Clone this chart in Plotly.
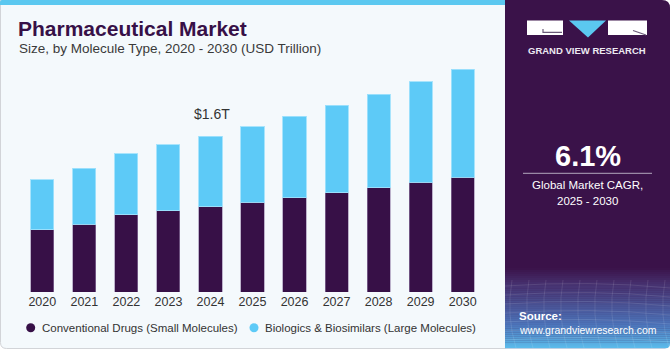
import plotly.graph_objects as go

# ---------------- data ----------------
years = ["2020", "2021", "2022", "2023", "2024", "2025", "2026", "2027", "2028", "2029", "2030"]
conventional = [0.636, 0.697, 0.790, 0.831, 0.875, 0.920, 0.967, 1.018, 1.070, 1.125, 1.179]
biologics = [0.513, 0.574, 0.628, 0.677, 0.725, 0.775, 0.835, 0.897, 0.958, 1.029, 1.105]
series_names = ["Conventional Drugs (Small Molecules)", "Biologics & Biosimilars (Large Molecules)"]
highlight_year = "2024"
highlight_label = "$1.6T"
title_text = "Pharmaceutical Market"
subtitle_text = "Size, by Molecule Type, 2020 - 2030 (USD Trillion)"
cagr_value = "6.1%"
cagr_line1 = "Global Market CAGR,"
cagr_line2 = "2025 - 2030"
brand_text = "GRAND VIEW RESEARCH"
source_label = "Source:"
source_url = "www.grandviewresearch.com"

# ---------------- style ----------------
W, H = 670, 350
DARK = "#371047"
LIGHT = "#5DCAF7"
PANEL = "#3A1249"
CARD = "#F4F9FC"
FONT = "Liberation Sans, Arial, sans-serif"


def X(p):
    return p / W


def Y(p):
    return 1 - p / H


def P(x, y):
    return f"{X(x):.5f},{Y(y):.5f}"


def rounded(x0, y0, x1, y1, tl=0, tr=0, br=0, bl=0):
    d = f"M {P(x0 + tl, y0)} L {P(x1 - tr, y0)} "
    if tr:
        d += f"Q {P(x1, y0)} {P(x1, y0 + tr)} "
    d += f"L {P(x1, y1 - br)} "
    if br:
        d += f"Q {P(x1, y1)} {P(x1 - br, y1)} "
    d += f"L {P(x0 + bl, y1)} "
    if bl:
        d += f"Q {P(x0, y1)} {P(x0, y1 - bl)} "
    d += f"L {P(x0, y0 + tl)} "
    if tl:
        d += f"Q {P(x0, y0)} {P(x0 + tl, y0)} "
    return d + "Z"


def hex2rgb(h):
    h = h.lstrip("#")
    return [int(h[i:i + 2], 16) for i in (0, 2, 4)]


def lerp_color(stops, t):
    for (t0, c0), (t1, c1) in zip(stops, stops[1:]):
        if t0 <= t <= t1:
            f = (t - t0) / (t1 - t0) if t1 > t0 else 0
            a, b = hex2rgb(c0), hex2rgb(c1)
            return "rgb(%d,%d,%d)" % tuple(round(a[i] + (b[i] - a[i]) * f) for i in range(3))
    return stops[-1][1]


fig = go.Figure()

fig.add_trace(go.Bar(
    x=years, y=conventional, name=series_names[0], marker_color=DARK,
    marker_line=dict(color="rgba(150,130,170,0.6)", width=1), showlegend=False,
    hovertemplate="%{x}: %{y:.2f}T<extra></extra>"))
fig.add_trace(go.Bar(
    x=years, y=biologics, name=series_names[1], marker_color=LIGHT,
    marker_line=dict(color="rgba(160,225,252,0.9)", width=1), showlegend=False,
    hovertemplate="%{x}: %{y:.2f}T<extra></extra>"))

shapes = []
# card background
shapes.append(dict(type="path", xref="paper", yref="paper", layer="below",
                   path=rounded(0.5, 0.5, 506, 348.5, bl=6),
                   fillcolor=CARD, line=dict(color="#D2D4D8", width=1)))
# top stripe
shapes.append(dict(type="path", xref="paper", yref="paper", layer="below",
                   path=rounded(0, 0, 506, 5, tl=2),
                   fillcolor="#5BC8F0", line=dict(width=0)))
# right panel
shapes.append(dict(type="path", xref="paper", yref="paper", layer="below",
                   path=rounded(505, 0, 670, 348.5, tr=8, br=5),
                   fillcolor=PANEL, line=dict(width=0)))
# gradient at bottom of panel
stops = [(0.0, PANEL), (0.2, "#46306E"), (0.45, "#4A5294"), (0.7, "#4C74BA"), (1.0, "#5CBDEC")]
g0, g1 = 268.0, 348.5
n = 40
for i in range(n):
    ya = g0 + (g1 - g0) * i / n
    yb = g0 + (g1 - g0) * (i + 1) / n + 0.4
    shapes.append(dict(type="rect", xref="paper", yref="paper", layer="below",
                       x0=X(505), x1=X(670), y0=Y(min(yb, g1)), y1=Y(ya),
                       fillcolor=lerp_color(stops, (i + 0.5) / n), line=dict(width=0)))
# faint mesh lines in the gradient area
for k in range(7):
    yy = 286 + k * 9
    shapes.append(dict(type="path", xref="paper", yref="paper", layer="below",
                       path=f"M {P(505, yy)} Q {P(590, yy - 6)} {P(670, yy + 2)}",
                       line=dict(color="rgba(255,255,255,0.10)", width=1)))
for k in range(10):
    xx = 512 + k * 17
    shapes.append(dict(type="path", xref="paper", yref="paper", layer="below",
                       path=f"M {P(xx, 280)} Q {P(xx - 6, 315)} {P(xx + 4, 348)}",
                       line=dict(color="rgba(255,255,255,0.10)", width=1)))
# white mask for rounded bottom-right corner
r = 5
shapes.append(dict(type="path", xref="paper", yref="paper", layer="below",
                   path=f"M {P(670, 348.5 - r)} Q {P(670, 348.5)} {P(670 - r, 348.5)} L {P(670, 350)} Z",
                   fillcolor="white", line=dict(width=0)))
shapes.append(dict(type="rect", xref="paper", yref="paper", layer="below",
                   x0=X(505), x1=X(670), y0=0, y1=Y(348.6),
                   fillcolor="white", line=dict(width=0)))
# logo
shapes.append(dict(type="rect", xref="paper", yref="paper", layer="below",
                   x0=X(527), x1=X(563), y0=Y(35), y1=Y(20.5),
                   fillcolor="white", line=dict(width=0)))
shapes.append(dict(type="path", xref="paper", yref="paper", layer="below",
                   path=f"M {P(543, 29)} L {P(543, 32.3)} L {P(562, 32.3)}",
                   line=dict(color="#6A5A78", width=1.2)))
shapes.append(dict(type="path", xref="paper", yref="paper", layer="below",
                   path=f"M {P(569, 20.5)} L {P(606, 20.5)} L {P(588, 37.5)} Z",
                   fillcolor="#5BC8F0", line=dict(width=0)))
shapes.append(dict(type="rect", xref="paper", yref="paper", layer="below",
                   x0=X(608), x1=X(647), y0=Y(35), y1=Y(20.5),
                   fillcolor="white", line=dict(width=0)))
shapes.append(dict(type="path", xref="paper", yref="paper", layer="below",
                   path=f"M {P(633, 30.5)} L {P(646, 35)}",
                   line=dict(color="#6A5A78", width=1.2)))
# CAGR divider
shapes.append(dict(type="line", xref="paper", yref="paper",
                   x0=X(523), x1=X(652), y0=Y(173.3), y1=Y(173.3),
                   line=dict(color="#B3A8BF", width=1)))
# legend markers
for cx, col in [(30.7, DARK), (254, LIGHT)]:
    shapes.append(dict(type="circle", xref="paper", yref="paper",
                       x0=X(cx - 4.5), x1=X(cx + 4.5), y0=Y(327.7 + 4.5), y1=Y(327.7 - 4.5),
                       fillcolor=col, line=dict(width=0)))

ann = []


def text(x, y, s, size, color, xanchor="left", bold=False):
    ann.append(dict(xref="paper", yref="paper", x=X(x), y=Y(y), text=s, showarrow=False,
                    xanchor=xanchor, yanchor="middle",
                    font=dict(family=FONT, size=size, color=color,
                              weight="bold" if bold else "normal")))


text(16, 28.5, title_text, 21, DARK, bold=True)
text(16.5, 48.5, subtitle_text, 13.5, "#3A3A3A")
text(40.2, 327.7, series_names[0], 11.5, "#333333")
text(262.8, 327.7, series_names[1], 11.5, "#333333")
text(587, 51, brand_text, 9.5, "#EDEAF2", xanchor="center", bold=True)
text(587.5, 156, cagr_value, 29, "white", xanchor="center", bold=True)
text(587.5, 185, cagr_line1, 11.5, "white", xanchor="center")
text(587.5, 200.7, cagr_line2, 11.5, "white", xanchor="center")
text(517, 315.7, source_label, 11.5, "white", bold=True)
text(517, 330, source_url, 10.5, "white")

hi = years.index(highlight_year)
ann.append(dict(xref="x", yref="y", x=hi, y=conventional[hi] + biologics[hi],
                text=highlight_label, showarrow=False, xanchor="center", yanchor="middle",
                xshift=1.5, yshift=22.5, font=dict(family=FONT, size=14, color="#333333")))

fig.update_layout(
    width=W, height=H,
    margin=dict(l=0, r=0, t=0, b=0),
    paper_bgcolor="white", plot_bgcolor="rgba(0,0,0,0)",
    barmode="stack", bargap=0.45,
    shapes=shapes, annotations=ann,
    font=dict(family=FONT, color="#333333"),
    xaxis=dict(domain=[X(21.3), X(483.7)], range=[-0.5, 10.5], type="category",
               showgrid=False, zeroline=False, showline=False, ticks="",
               tickfont=dict(family=FONT, size=12.5, color="#333333"), fixedrange=True),
    yaxis=dict(domain=[Y(292), Y(58)], range=[0, 2.4], visible=False, fixedrange=True),
    showlegend=False,
)

fig.write_html("out.html")
